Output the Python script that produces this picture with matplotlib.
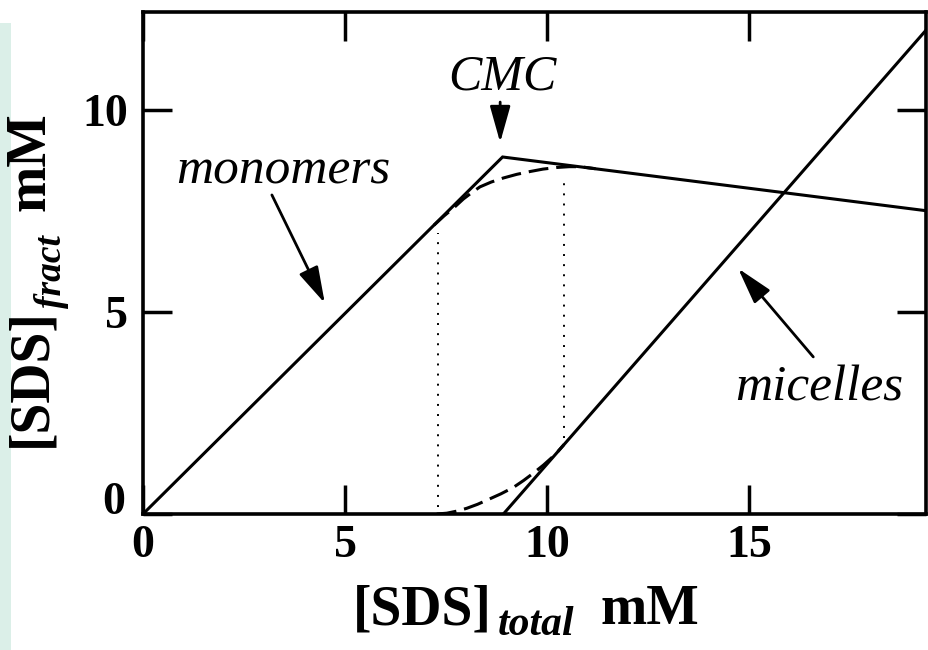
import matplotlib
matplotlib.use("Agg")
import matplotlib.pyplot as plt
from matplotlib.patches import Rectangle
from matplotlib.transforms import ScaledTranslation

plt.rcParams['font.family'] = ['Liberation Serif', 'DejaVu Serif']

# ---- data ----
monomer_x = [0.0, 8.90, 19.38]
monomer_y = [0.0, 8.84, 7.51]
micelle_x = [8.92, 19.38]
micelle_y = [0.0, 11.98]
monomer_dash_x = [7.20, 7.45, 7.68, 7.93, 8.14, 8.34, 8.62, 8.92, 9.25, 9.58, 9.90, 10.24, 10.55, 10.82, 11.20]
monomer_dash_y = [7.15, 7.38, 7.57, 7.80, 7.96, 8.10, 8.22, 8.32, 8.41, 8.48, 8.54, 8.58, 8.60, 8.60, 8.55]
micelle_dash_x = [7.27, 7.52, 7.76, 8.01, 8.28, 8.55, 8.86, 9.17, 9.42, 9.66, 9.91, 10.20, 10.42]
micelle_dash_y = [0.00, 0.02, 0.07, 0.14, 0.24, 0.36, 0.50, 0.66, 0.83, 1.01, 1.21, 1.47, 1.72]
dot_x = [7.31, 10.42]
dot_y0 = [0.18, 1.88]
dot_y1 = [6.95, 8.35]
xticks = [0, 5, 10, 15]
yticks = [0, 5, 10]

W, H = 929, 650
fig = plt.figure(figsize=(W / 100, H / 100), dpi=100)
fig.patches.append(Rectangle((0, 0), 11 / W, 1 - 23 / H, transform=fig.transFigure,
                             facecolor='#dbefe8', edgecolor='none', zorder=0))

ax = fig.add_axes([143 / W, 1 - 514 / H, (926 - 143) / W, (514 - 12) / H])
ax.set_xlim(0, 19.38)
ax.set_ylim(0, 12.43)

lw = 2.2
ax.plot(monomer_x, monomer_y, color='black', lw=lw, solid_joinstyle='miter')
ax.plot(micelle_x, micelle_y, color='black', lw=lw)
ax.plot(monomer_dash_x, monomer_dash_y, color='black', lw=lw, linestyle=(0, (6.5, 2.6)))
ax.plot(micelle_dash_x, micelle_dash_y, color='black', lw=lw, linestyle=(0, (6.5, 2.6)))
for x, a, b in zip(dot_x, dot_y0, dot_y1):
    ax.plot([x, x], [a, b], color='black', lw=1.4, linestyle=(0, (1, 4.2)))

for s in ax.spines.values():
    s.set_linewidth(2.6)

ax.set_xticks(xticks)
ax.set_yticks(yticks)
ax.set_xticklabels([str(t) for t in xticks], fontweight='bold', fontsize=33)
ax.set_yticklabels([str(t) for t in yticks], fontweight='bold', fontsize=33)
ax.tick_params(direction='in', length=21, width=2.5, top=True, right=True,
               labeltop=False, labelright=False)
ax.tick_params(axis='x', pad=8)
ax.tick_params(axis='y', pad=11)
# the "0" on the y axis sits a little above its tick in the reference
ylab0 = ax.yaxis.get_major_ticks()[0].label1
ylab0.set_transform(ylab0.get_transform() + ScaledTranslation(-0.03, 0.16, fig.dpi_scale_trans))

arrow_kw = dict(arrowstyle='-|>,head_length=1.6,head_width=0.45',
                mutation_scale=14, lw=2.0, color='black', shrinkA=0, shrinkB=0)

# annotations
ax.text(8.89, 10.82, 'CMC', style='italic', fontsize=36, ha='center', va='center')
ax.annotate('', xy=(8.84, 9.2), xytext=(8.84, 10.2), arrowprops=arrow_kw)
ax.text(3.465, 8.19, 'monomers', style='italic', fontsize=37, ha='center', va='baseline')
ax.annotate('', xy=(4.5, 5.22), xytext=(3.19, 7.90), arrowprops=arrow_kw)
ax.text(16.73, 2.82, 'micelles', style='italic', fontsize=37, ha='center', va='baseline')
ax.annotate('', xy=(14.73, 6.08), xytext=(16.59, 3.89), arrowprops=arrow_kw)

# axis labels built from pieces: [SDS] + subscript + mM
fig.canvas.draw()
renderer = fig.canvas.get_renderer()


def px(x, y):
    return x / W, 1 - y / H


def compose(parts, x0, y0, vertical):
    cur = 0.0
    for text, size, style, drop, gap_before in parts:
        cur += gap_before
        if vertical:
            t = fig.text(*px(x0 + drop, y0 - cur), text, fontsize=size, fontweight='bold',
                         style=style, rotation=90, rotation_mode='anchor',
                         ha='left', va='baseline')
            ext = t.get_window_extent(renderer)
            cur += ext.height
        else:
            t = fig.text(*px(x0 + cur, y0 + drop), text, fontsize=size, fontweight='bold',
                         style=style, ha='left', va='baseline')
            ext = t.get_window_extent(renderer)
            cur += ext.width


compose([('[SDS]', 40, 'normal', 0, 0),
         ('total', 30, 'italic', 11, 6),
         ('mM', 40, 'normal', 0, 26)], 353, 624, vertical=False)
compose([('[SDS]', 40, 'normal', 0, 0),
         ('fract', 27, 'italic', 16, 0),
         ('mM', 40, 'normal', 0, 24)], 45, 447, vertical=True)

fig.savefig('out.png', dpi=100)
